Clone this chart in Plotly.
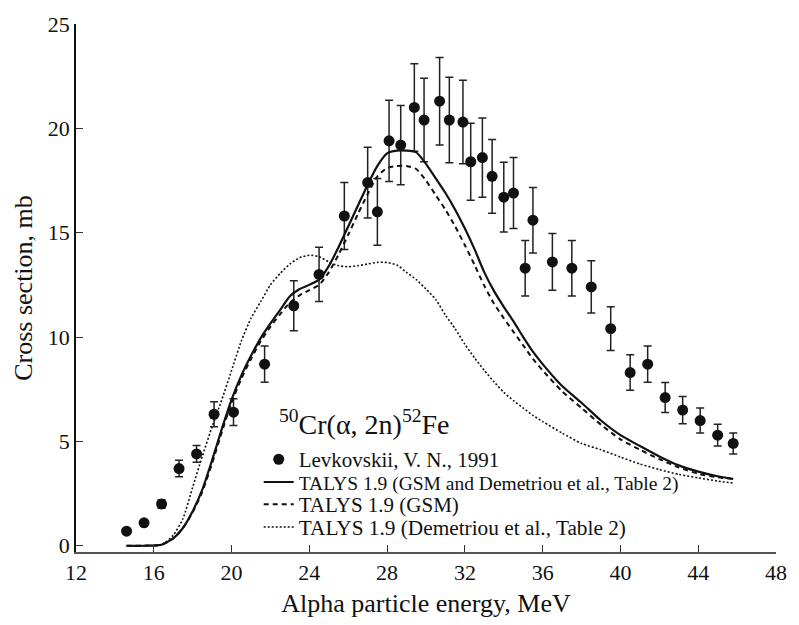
import plotly.graph_objects as go

# Experimental data (Levkovskii, 1991)
exp_E = [14.6, 15.5, 16.4, 17.3, 18.2, 19.1, 20.1, 21.7, 23.2, 24.5, 25.8, 27.0, 27.5,
         28.1, 28.7, 29.4, 29.9, 30.7, 31.2, 31.9, 32.3, 32.9, 33.4, 34.0, 34.5, 35.1,
         35.5, 36.5, 37.5, 38.5, 39.5, 40.5, 41.4, 42.3, 43.2, 44.1, 45.0, 45.8]
exp_sig = [0.7, 1.1, 2.0, 3.7, 4.4, 6.3, 6.4, 8.7, 11.5, 13.0, 15.8, 17.4, 16.0,
           19.4, 19.2, 21.0, 20.4, 21.3, 20.4, 20.3, 18.4, 18.6, 17.7, 16.7, 16.9, 13.3,
           15.6, 13.6, 13.3, 12.4, 10.4, 8.3, 8.7, 7.1, 6.5, 6.0, 5.3, 4.9]
exp_err = [0.0, 0.0, 0.2, 0.4, 0.4, 0.6, 0.64, 0.87, 1.2, 1.3, 1.6, 1.7, 1.6,
           1.95, 1.9, 2.1, 2.0, 2.1, 2.05, 2.0, 1.85, 1.9, 1.77, 1.67, 1.7, 1.33,
           1.57, 1.36, 1.33, 1.25, 1.05, 0.85, 0.87, 0.72, 0.65, 0.6, 0.52, 0.5]

# TALYS curves
calc_E = [14.6, 15.5, 16.4, 17.0, 17.5, 18.0, 18.5, 19.0, 19.5, 20.0, 20.5, 21.0, 21.5,
          22.0, 22.5, 23.0, 23.5, 24.0, 24.5, 25.0, 25.5, 26.0, 26.5, 27.0, 27.5, 28.0,
          28.5, 29.0, 29.5, 30.0, 30.5, 31.0, 31.5, 32.0, 32.5, 33.0, 33.5, 34.0, 34.5,
          35.0, 35.5, 36.0, 37.0, 38.0, 39.0, 40.0, 41.0, 42.0, 43.0, 44.0, 45.0, 45.8]
gsm_dem = [0.0, 0.0, 0.05, 0.35, 0.85, 1.65, 2.7, 4.1, 5.6, 7.0, 8.15, 9.1, 9.95,
           10.65, 11.3, 11.95, 12.3, 12.5, 12.75, 13.4, 14.3, 15.3, 16.3, 17.3, 18.2, 18.8,
           18.93, 18.93, 18.85, 18.3, 17.6, 16.9, 16.1, 15.2, 14.2, 13.1, 12.2, 11.45, 10.75,
           10.0, 9.3, 8.7, 7.65, 6.85, 6.0, 5.3, 4.78, 4.28, 3.85, 3.55, 3.33, 3.2]
gsm = [0.0, 0.0, 0.05, 0.35, 0.85, 1.6, 2.6, 3.95, 5.45, 6.85, 8.0, 8.95, 9.8,
       10.5, 11.1, 11.65, 12.0, 12.25, 12.5, 13.1, 13.95, 14.9, 15.9, 16.85, 17.7, 18.1,
       18.2, 18.2, 18.05, 17.5, 16.8, 16.1, 15.3, 14.4, 13.45, 12.45, 11.6, 10.9, 10.25,
       9.6, 8.95, 8.4, 7.4, 6.6, 5.8, 5.1, 4.6, 4.15, 3.75, 3.45, 3.28, 3.2]
dem = [0.0, 0.0, 0.05, 0.5, 1.3, 2.8, 4.3, 5.7, 7.0, 8.4, 9.8, 10.9, 11.7,
       12.5, 13.05, 13.5, 13.8, 13.92, 13.85, 13.6, 13.42, 13.37, 13.42, 13.5, 13.58, 13.57,
       13.45, 13.1, 12.75, 12.3, 11.8, 11.05, 10.4, 9.65, 9.0, 8.4, 7.85, 7.35, 6.95,
       6.6, 6.25, 5.95, 5.4, 4.9, 4.6, 4.25, 3.92, 3.65, 3.42, 3.25, 3.1, 3.0]

x_ticks = [12, 16, 20, 24, 28, 32, 36, 40, 44, 48]
y_ticks = [0, 5, 10, 15, 20, 25]

FONT = "Liberation Serif, Times New Roman, DejaVu Serif, serif"

fig = go.Figure()
fig.add_trace(go.Scatter(
    x=exp_E, y=exp_sig, mode="markers", name="Levkovskii, V. N., 1991",
    marker=dict(size=11, color="#111111"),
    error_y=dict(type="data", array=exp_err, visible=True, color="#222222", thickness=1.5, width=4),
    legend="legend", showlegend=True))
fig.add_trace(go.Scatter(
    x=calc_E, y=gsm_dem, mode="lines", name="TALYS 1.9 (GSM and Demetriou et al., Table 2)",
    line=dict(color="#111111", width=2.2, shape="spline", smoothing=0.6),
    legend="legend2", showlegend=True))
fig.add_trace(go.Scatter(
    x=calc_E, y=gsm, mode="lines", name="TALYS 1.9 (GSM)",
    line=dict(color="#111111", width=2, dash="5px,4px", shape="spline", smoothing=0.6),
    legend="legend3", showlegend=True))
fig.add_trace(go.Scatter(
    x=calc_E, y=dem, mode="lines", name="TALYS 1.9 (Demetriou et al., Table 2)",
    line=dict(color="#111111", width=1.6, dash="2px,2px", shape="spline", smoothing=0.6),
    legend="legend4", showlegend=True))

def leg(yc, size=21):
    return dict(x=0.261, y=yc, xanchor="left", yanchor="middle", bgcolor="rgba(0,0,0,0)",
                font=dict(family=FONT, size=size, color="#111111"), borderwidth=0, visible=True)

fig.update_layout(
    width=799, height=625,
    margin=dict(l=76, r=12, t=22, b=73),
    paper_bgcolor="white", plot_bgcolor="white",
    showlegend=True,
    font=dict(family=FONT, size=22, color="#111111"),
    legend=leg(0.175), legend2=leg(0.132, 19.5), legend3=leg(0.090), legend4=leg(0.047, 21.3),
    xaxis=dict(range=[12, 48], tickvals=x_ticks, ticks="inside", ticklen=7, tickwidth=1.2,
               tickcolor="#333333", showline=True, linecolor="#555555", linewidth=1.5,
               showgrid=False, zeroline=False,
               title=dict(text="Alpha particle energy, MeV", font=dict(family=FONT, size=26), standoff=10),
               tickfont=dict(family=FONT, size=22)),
    yaxis=dict(range=[-0.3, 25], tickvals=y_ticks, ticks="inside", ticklen=7, tickwidth=1.2,
               tickcolor="#333333", showline=True, linecolor="#111111", linewidth=1.5,
               showgrid=False, zeroline=False,
               title=dict(text="Cross section, mb", font=dict(family=FONT, size=26), standoff=8),
               tickfont=dict(family=FONT, size=22)),
    annotations=[dict(text="<sup>50</sup>Cr(α, 2n)<sup>52</sup>Fe", x=0.2866, y=0.245,
                      xref="paper", yref="paper", xanchor="left", yanchor="middle",
                      showarrow=False, font=dict(family=FONT, size=28, color="#111111"))],
)

fig.write_html("out.html")
